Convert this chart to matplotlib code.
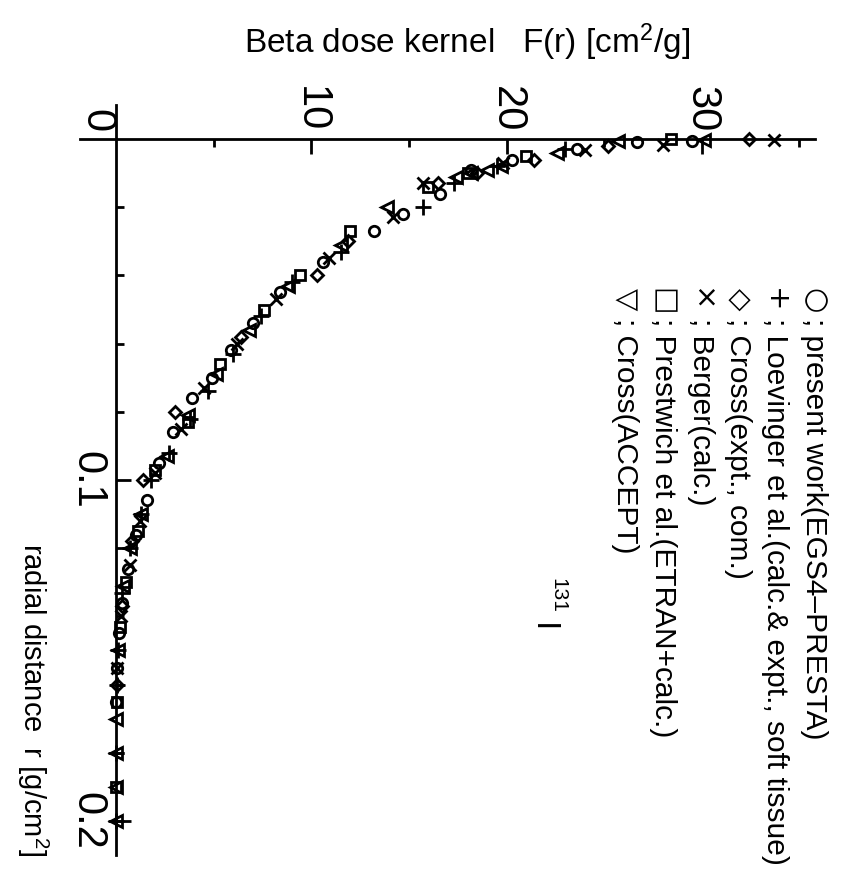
import matplotlib
matplotlib.use("Agg")
import matplotlib.pyplot as plt

plt.rcParams['font.family'] = ['Liberation Sans', 'DejaVu Sans']
plt.rcParams['mathtext.default'] = 'regular'

# radial distance r [g/cm2] and kernel F(r) [cm2/g] per data set
present_r = [0.0005, 0.001, 0.003, 0.006, 0.009, 0.016, 0.022, 0.027, 0.036, 0.045, 0.054,
             0.062, 0.070, 0.076, 0.086, 0.095, 0.106, 0.116, 0.126, 0.136, 0.145, 0.155, 0.165]
present_F = [29.5, 26.7, 23.6, 20.3, 18.2, 16.6, 14.7, 13.2, 10.6, 8.4, 7.0,
             5.9, 4.9, 3.9, 2.9, 2.2, 1.6, 1.0, 0.6, 0.3, 0.15, 0.05, 0.0]

loevinger_r = [0.003, 0.008, 0.013, 0.020, 0.033, 0.042, 0.052, 0.063, 0.074, 0.082,
               0.092, 0.100, 0.110, 0.120, 0.133, 0.150, 0.160, 0.180, 0.200]
loevinger_F = [23.0, 19.5, 17.3, 15.7, 11.5, 9.0, 7.4, 6.0, 4.7, 3.8,
               2.7, 1.8, 1.3, 0.7, 0.3, 0.1, 0.05, 0.0, 0.0]

cross_expt_r = [0.0, 0.002, 0.006, 0.010, 0.013, 0.030, 0.040, 0.058, 0.080, 0.100,
                0.118, 0.137, 0.160]
cross_expt_F = [32.4, 25.2, 21.4, 18.5, 16.5, 11.9, 10.3, 6.4, 3.0, 1.4,
                0.8, 0.3, 0.05]

berger_r = [0.0003, 0.0018, 0.0032, 0.007, 0.013, 0.023, 0.035, 0.047, 0.060, 0.073,
            0.085, 0.098, 0.112, 0.125, 0.140, 0.155]
berger_F = [33.7, 28.0, 24.0, 19.8, 15.7, 14.2, 10.9, 8.2, 6.2, 4.5,
            3.3, 2.0, 1.2, 0.7, 0.25, 0.05]

prestwich_r = [0.0, 0.005, 0.010, 0.014, 0.027, 0.040, 0.050, 0.066, 0.083, 0.097,
               0.115, 0.130, 0.143, 0.165, 0.190]
prestwich_F = [28.4, 21.0, 18.0, 16.0, 12.0, 9.4, 7.6, 5.3, 3.7, 2.0,
               1.1, 0.5, 0.2, 0.05, 0.0]

accept_r = [0.0003, 0.0005, 0.004, 0.008, 0.009, 0.010, 0.011, 0.020, 0.031, 0.043, 0.056,
            0.069, 0.081, 0.093, 0.110, 0.120, 0.131, 0.150, 0.170, 0.180, 0.190, 0.200]
accept_F = [30.1, 25.7, 22.6, 19.7, 19.0, 18.2, 17.4, 13.9, 11.5, 8.8, 6.8,
            5.1, 3.7, 2.6, 1.3, 0.7, 0.35, 0.1, 0.0, 0.0, 0.0, 0.0]

legend_symbols = ['\u25CB', '+', '\u25C7', '\u00D7', '\u25A1', '\u25BD']
legend_labels = [
    '; present work(EGS4\u2013PRESTA)',
    '; Loevinger et al.(calc.& expt., soft tissue)',
    '; Cross(expt., com.)',
    '; Berger(calc.)',
    '; Prestwich et al.(ETRAN+calc.)',
    '; Cross(ACCEPT)',
]

W, H = 843, 874
fig = plt.figure(figsize=(W / 100, H / 100), dpi=100)
# page is turned 90 deg clockwise: F(r) runs to the right, r runs downward
ax = fig.add_axes([80 / W, 1 - 855 / H, (815 - 80) / W, (855 - 105) / H])

series = [
    (present_F, present_r, 'o', 7.5),
    (loevinger_F, loevinger_r, '+', 11),
    (cross_expt_F, cross_expt_r, 'D', 6.5),
    (berger_F, berger_r, 'x', 8.5),
    (prestwich_F, prestwich_r, 's', 7),
    (accept_F, accept_r, '<', 8.5),
]
for F, r, m, ms in series:
    ax.plot(F, r, ls='none', marker=m, ms=ms, mfc='none', mec='black', mew=2)

ax.set_xlim(-1.85, 35.8)
ax.set_ylim(0.21, -0.01)

for s in ['right', 'bottom']:
    ax.spines[s].set_visible(False)
ax.spines['left'].set_position(('data', 0))
ax.spines['top'].set_position(('data', 0))
ax.spines['left'].set_linewidth(2)
ax.spines['top'].set_linewidth(2)

ax.xaxis.set_ticks_position('top')
ax.set_xticks([10, 20, 30])
ax.set_xticks([5, 15, 25, 35], minor=True)
ax.set_yticks([0.1, 0.2])
ax.set_yticks([0.02, 0.04, 0.06, 0.08, 0.12, 0.14, 0.16, 0.18], minor=True)
ax.set_yticklabels(['0.1', '0.2'])
ax.tick_params(which='both', direction='in', width=2)
ax.tick_params(which='major', length=11)
ax.tick_params(which='minor', length=6)
ax.tick_params(axis='x', labelsize=30, pad=5, labelrotation=-90)
ax.tick_params(axis='y', labelsize=30, pad=6, labelrotation=-90)
for lab in ax.get_yticklabels():
    lab.set_va('center')
    lab.set_ha('right')
for lab in ax.get_xticklabels():
    lab.set_ha('center')
    lab.set_va('bottom')

# shared origin label
ax.text(-1.0, -0.0053, '0', rotation=-90, fontsize=30, ha='center', va='center')

fig.text(467 / W, 1 - 42 / H, 'Beta dose kernel   F(r) [cm$^2$/g]', fontsize=24,
         ha='center', va='center')
fig.text(33 / W, 1 - 700 / H, 'radial distance  r [g/cm$^2$]', fontsize=21,
         rotation=-90, ha='center', va='center')

legend_x = [814, 775, 738, 701, 663, 625]
for x, sym, lab in zip(legend_x, legend_symbols, legend_labels):
    fig.text(x / W, 1 - 288 / H, sym, fontsize=21, rotation=-90, family='DejaVu Sans',
             ha='center', va='top')
    fig.text(x / W, 1 - 318 / H, lab, fontsize=21.5, rotation=-90,
             ha='center', va='top')

fig.text(558 / W, 1 - 595 / H, '131', fontsize=15, rotation=-90, ha='center', va='center')
fig.text(542 / W, 1 - 628 / H, 'I', fontsize=24, rotation=-90, ha='center', va='center')

fig.savefig('out.png', dpi=100)
